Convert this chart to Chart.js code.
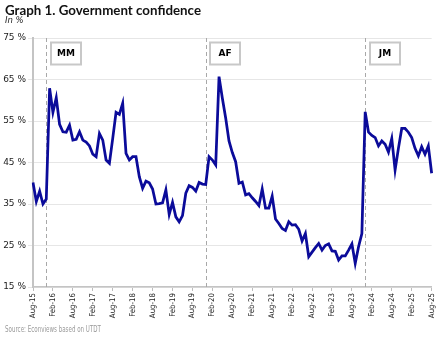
<!DOCTYPE html>
<html><head><meta charset="utf-8">
<script src="https://cdn.jsdelivr.net/npm/chart.js@4.4.1/dist/chart.umd.min.js"></script>
<style>
html,body{margin:0;padding:0;background:#fff;}
#wrap{position:relative;width:443px;height:340px;overflow:hidden;background:#fff;}
#title{position:absolute;left:5px;top:1px;font:bold 14px Lato,"DejaVu Sans";color:#111;white-space:nowrap;transform-origin:0 0;}
#sub{position:absolute;left:5px;top:15px;font:italic 8.5px "DejaVu Sans";color:#222;white-space:nowrap;}
#src{position:absolute;left:5px;top:325px;font:8px "DejaVu Sans Condensed","DejaVu Sans";color:#9a9a9a;white-space:nowrap;transform-origin:0 0;}
canvas{position:absolute;left:0;top:0;}
</style></head><body>
<div id="wrap">
<canvas id="c" width="443" height="340"></canvas>
<div id="title">Graph 1. Government confidence</div>
<div id="sub">In %</div>
<div id="src">Source: Econviews based on UTDT</div>
</div>
<script>
// Months Aug-15 .. Aug-25 (categories)
const monthNames = ['Jan','Feb','Mar','Apr','May','Jun','Jul','Aug','Sep','Oct','Nov','Dec'];
const startYear = 2015, startMonth = 7, monthCount = 121;
const categories = [];
for (let i = 0; i < monthCount; i++) {
  const m = (startMonth + i) % 12, y = startYear + Math.floor((startMonth + i) / 12);
  categories.push(monthNames[m] + '-' + String(y % 100).padStart(2, '0'));
}
const tickLabels = ['Aug-15','Feb-16','Aug-16','Feb-17','Aug-17','Feb-18','Aug-18','Feb-19','Aug-19','Feb-20',
  'Aug-20','Feb-21','Aug-21','Feb-22','Aug-22','Feb-23','Aug-23','Feb-24','Aug-24','Feb-25','Aug-25'];
const yTicks = [15, 25, 35, 45, 55, 65, 75];

// Government confidence index, in %
const confidence = [
  40.2, 35.6, 38.1, 35.0, 36.2, 62.9, 57.1, 60.6, 54.2, 52.4,
  52.3, 54.0, 50.4, 50.6, 52.4, 50.4, 49.9, 49.0, 47.0, 46.4,
  52.0, 50.4, 45.6, 44.8, 50.8, 57.1, 56.6, 59.3, 47.2, 45.6,
  46.4, 46.4, 41.6, 38.8, 40.5, 40.1, 38.6, 35.0, 35.1, 35.3,
  38.4, 32.5, 35.4, 31.9, 30.7, 32.2, 37.6, 39.4, 39.0, 38.1,
  40.2, 39.8, 39.7, 46.4, 45.6, 44.4, 65.7, 60.5, 55.7, 50.2,
  47.4, 45.2, 40.0, 40.3, 37.2, 37.5, 36.5, 35.6, 34.6, 38.6,
  34.0, 34.0, 36.9, 31.4, 30.3, 29.1, 28.6, 30.7, 29.9, 30.0,
  28.9, 26.1, 27.9, 22.3, 23.4, 24.5, 25.5, 23.9, 25.0, 25.4,
  23.7, 23.6, 21.5, 22.5, 22.5, 23.9, 25.4, 20.7, 24.7, 27.9,
  57.2, 52.3, 51.5, 51.0, 49.0, 50.2, 49.4, 47.5, 50.8, 43.2,
  48.4, 53.2, 53.2, 52.3, 51.0, 48.4, 46.6, 48.8, 47.0, 49.0,
  42.4
];

// Government changes
const govLabels = ['MM', 'AF', 'JM'];
const govMonths = ['Dec-15', 'Dec-19', 'Dec-23'];

const tickSet = new Set(tickLabels);

const govPlugin = {
  id: 'gov',
  beforeDatasetsDraw(chart) {
    const {ctx, chartArea, scales} = chart;
    ctx.save();
    ctx.strokeStyle = '#a8a8a8';
    ctx.lineWidth = 1;
    ctx.setLineDash([4, 3]);
    govMonths.forEach(m => {
      const x = Math.round(scales.x.getPixelForValue(categories.indexOf(m))) + 0.5;
      ctx.beginPath();
      ctx.moveTo(x, chartArea.top);
      ctx.lineTo(x, chartArea.bottom);
      ctx.stroke();
    });
    ctx.restore();
  },
  afterDatasetsDraw(chart) {
    const {ctx, chartArea, scales} = chart;
    ctx.save();
    govMonths.forEach((m, i) => {
      const x = scales.x.getPixelForValue(categories.indexOf(m));
      const bx = Math.round(x + 4.5), by = chartArea.top + 4.5, bw = 30, bh = 22;
      ctx.fillStyle = '#fff';
      ctx.fillRect(bx, by, bw, bh);
      ctx.strokeStyle = '#c8c8c8';
      ctx.lineWidth = 2;
      ctx.setLineDash([]);
      ctx.strokeRect(bx, by, bw, bh);
      ctx.fillStyle = '#000';
      ctx.font = 'bold 9px "DejaVu Sans"';
      ctx.textAlign = 'center';
      ctx.textBaseline = 'middle';
      ctx.fillText(govLabels[i], bx + bw / 2, by + bh / 2 + 0.5);
    });
    ctx.restore();
  }
};

new Chart(document.getElementById('c'), {
  type: 'line',
  data: {
    labels: categories,
    datasets: [{
      data: confidence,
      borderColor: '#0b0b9a',
      borderWidth: 2.75,
      pointRadius: 0,
      tension: 0,
      fill: false
    }]
  },
  options: {
    responsive: false,
    animation: false,
    layout: {padding: {top: 38, right: 10, bottom: 0, left: 0}},
    plugins: {legend: {display: false}, tooltip: {enabled: false}, title: {display: false}},
    scales: {
      x: {
        type: 'category',
        offset: false,
        afterFit(s) { s.height = 53; },
        grid: {
          display: true, drawOnChartArea: false, drawTicks: true, tickLength: 4,
          color: ctx => tickSet.has(categories[ctx.index]) ? '#bdbdbd' : 'rgba(0,0,0,0)'
        },
        border: {display: true, color: '#c4c4c4', width: 1.5},
        ticks: {
          autoSkip: false, maxRotation: 90, minRotation: 90, padding: 2,
          color: '#222',
          font: {family: '"DejaVu Sans Condensed", "DejaVu Sans"', size: 7.8},
          callback: (v, i) => tickSet.has(categories[i]) ? categories[i] : ''
        }
      },
      y: {
        min: yTicks[0], max: yTicks[yTicks.length - 1],
        afterFit(s) { s.width = 33; },
        afterBuildTicks(s) { s.ticks = yTicks.map(v => ({value: v})); },
        grid: {color: '#e6e6e6', lineWidth: 1, drawTicks: true, tickLength: 5},
        border: {display: true, color: '#c4c4c4', width: 2},
        ticks: {
          padding: 2, color: '#222',
          font: {family: '"DejaVu Sans"', size: 9},
          callback: v => v + ' %'
        }
      }
    }
  },
  plugins: [govPlugin]
});

function fitWidth(id, target) {
  const el = document.getElementById(id);
  const w = el.getBoundingClientRect().width;
  if (w > 0) el.style.transform = 'scaleX(' + (target / w) + ')';
}
fitWidth('title', 196);
fitWidth('src', 96);
</script>
</body></html>
